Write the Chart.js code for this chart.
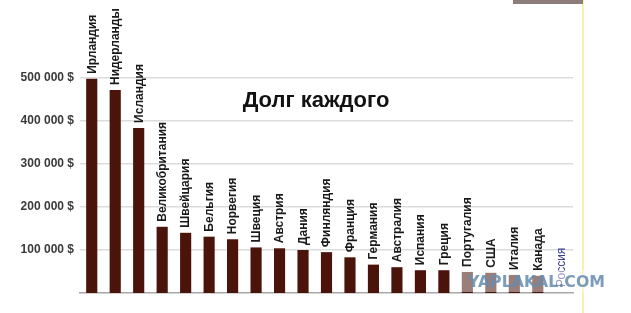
<!DOCTYPE html>
<html>
<head>
<meta charset="utf-8">
<script src="https://cdn.jsdelivr.net/npm/chart.js@4.4.1/dist/chart.umd.min.js"></script>
<style>
  html, body { margin: 0; padding: 0; background: #fff; }
  #wrap { width: 631px; height: 313px; position: relative; }
</style>
</head>
<body>
<div id="wrap"><canvas id="chart" width="631" height="313"></canvas></div>
<script>
// Долг на душу населения, $
const countries = [
  'Ирландия', 'Нидерланды', 'Исландия', 'Великобритания', 'Швейцария',
  'Бельгия', 'Норвегия', 'Швеция', 'Австрия', 'Дания', 'Финляндия',
  'Франция', 'Германия', 'Австралия', 'Испания', 'Греция', 'Португалия',
  'США', 'Италия', 'Канада', 'Россия'
];
const debt = [
  498000, 472000, 384000, 154000, 140000,
  131000, 125000, 106000, 104000, 100000, 95000,
  83000, 66000, 60000, 53000, 53000, 49000,
  47000, 42000, 40000, 0
];
const yTicks = [100000, 200000, 300000, 400000, 500000];

const BAR_COLOR = '#4a140b';

function fmtMoney(v) {
  return String(v).replace(/\B(?=(\d{3})+(?!\d))/g, ' ') + ' $';
}

// вертикальные подписи над столбцами + заголовок
const barLabels = {
  id: 'barLabels',
  afterDatasetsDraw(chart) {
    const ctx = chart.ctx;
    const meta = chart.getDatasetMeta(0);
    ctx.save();
    meta.data.forEach((bar, i) => {
      const isRussia = countries[i] === 'Россия';
      ctx.save();
      ctx.translate(bar.x + 0.5, bar.y - (isRussia ? 6 : 5));
      ctx.rotate(-Math.PI / 2);
      ctx.font = (isRussia ? '' : 'bold ') + '12px "Liberation Sans", Arial, sans-serif';
      ctx.fillStyle = isRussia ? '#3b3f8f' : '#1a1a1a';
      ctx.textAlign = 'left';
      ctx.textBaseline = 'middle';
      ctx.fillText(countries[i], 0, 0);
      ctx.restore();
    });

    ctx.font = 'bold 22px "Liberation Sans", Arial, sans-serif';
    ctx.fillStyle = '#111';
    ctx.textAlign = 'center';
    ctx.textBaseline = 'middle';
    ctx.fillText('Долг каждого', 316, 101);
    ctx.restore();
  }
};

// водяной знак и полоска справа, как на исходной картинке
const decorations = {
  id: 'decorations',
  afterDraw(chart) {
    const ctx = chart.ctx;
    ctx.save();
    ctx.fillStyle = '#f6f1b0';
    ctx.fillRect(582, 0, 2, 313);
    ctx.fillStyle = '#8c7c7a';
    ctx.fillRect(513, 0, 70, 4);

    ctx.fillStyle = 'rgba(255,255,255,0.45)';
    ctx.fillRect(459, 270, 150, 22);
    ctx.font = 'bold 15px "DejaVu Sans", sans-serif';
    const w = ctx.measureText('YAPLAKAL.COM').width;
    ctx.translate(468, 283);
    ctx.scale(137 / w, 1);
    ctx.fillStyle = 'rgba(100,140,175,0.85)';
    ctx.textAlign = 'left';
    ctx.textBaseline = 'middle';
    ctx.fillText('YAPLAKAL.COM', 0, 0);
    ctx.restore();
  }
};

new Chart(document.getElementById('chart'), {
  type: 'bar',
  data: {
    labels: countries,
    datasets: [{
      data: debt,
      backgroundColor: BAR_COLOR,
      borderWidth: 0,
      barPercentage: 0.5,
      categoryPercentage: 0.95,
    }],
  },
  options: {
    responsive: false,
    animation: false,
    layout: { padding: { top: 78, right: 58, bottom: 20, left: 0 } },
    plugins: {
      legend: { display: false },
      tooltip: { enabled: false },
    },
    scales: {
      x: {
        ticks: { display: false },
        grid: { display: false },
        border: { display: true, color: '#a8a8a8', width: 1.5 },
        afterFit: scale => { scale.height = 0; },
      },
      y: {
        min: 0,
        max: 500000,
        afterBuildTicks: scale => { scale.ticks = yTicks.map(v => ({ value: v })); },
        afterFit: scale => { scale.width = 80; },
        ticks: {
          padding: 6,
          color: '#3a3a3a',
          font: { family: '"Liberation Sans", Arial, sans-serif', size: 12, weight: 'bold' },
          callback: v => fmtMoney(v),
        },
        grid: { color: '#dcdcdc', lineWidth: 1.5, drawTicks: false },
        border: { display: false },
      },
    },
  },
  plugins: [barLabels, decorations],
});
</script>
</body>
</html>
